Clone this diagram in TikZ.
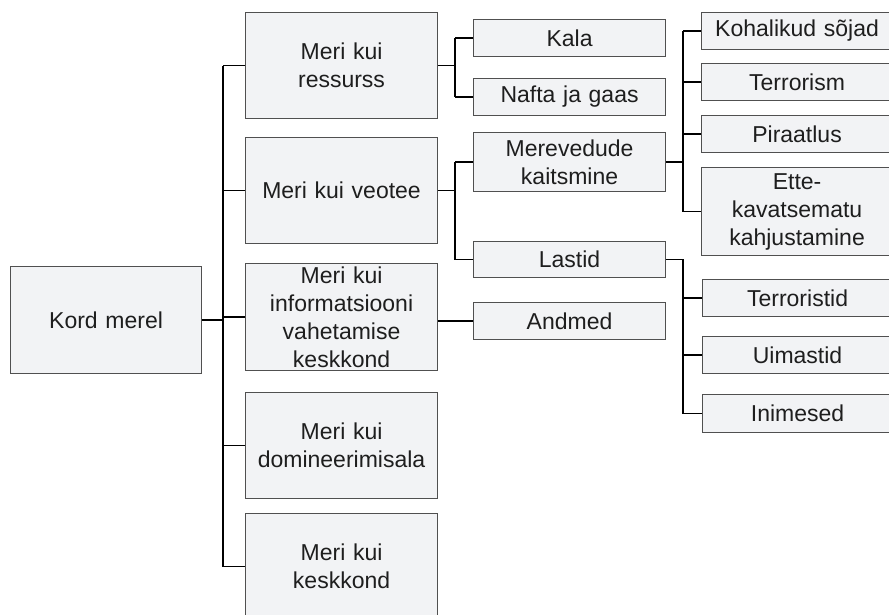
\documentclass[tikz,border=0pt]{standalone}
\usepackage{fontspec}
\setmainfont{Liberation Sans}
\definecolor{boxfill}{HTML}{F2F3F5}
\definecolor{boxline}{HTML}{505050}
\definecolor{txt}{HTML}{1E1E1E}
\begin{document}
\begin{tikzpicture}[x=1pt,y=-1pt,
  bx/.style={draw=boxline, fill=boxfill, line width=1.1pt, inner sep=0pt, anchor=north west,
    align=center, text=txt, font=\fontsize{23}{28}\selectfont},
  conn/.style={draw=black, line width=1.8pt}]
\useasboundingbox (0,0) rectangle (889,615);
\clip (0,0) rectangle (889,615);
\newcommand{\bxat}[6]{\node[bx, minimum width=#3pt, minimum height=#4pt, text width=#3pt] (#5) at (#1,#2) {#6};}
% root
\bxat{10}{266}{191}{107}{root}{Kord merel}
% level 1
\bxat{245}{12}{192}{106}{ra}{Meri kui\\ressurss}
\bxat{245}{137}{192}{106}{rb}{Meri kui veotee}
\bxat{245}{263}{192}{107}{rc}{Meri kui\\informatsiooni\\vahetamise\\keskkond}
\bxat{245}{392}{192}{106}{rd}{Meri kui\\domineerimisala}
\bxat{245}{513}{192}{106}{re}{Meri kui\\keskkond}
% level 2
\bxat{473}{19}{192}{37}{kala}{Kala}
\bxat{473}{78}{192}{37}{nafta}{Nafta ja gaas}
\bxat{473}{132}{192}{59}{merev}{Merevedude\\kaitsmine}
\bxat{473}{241}{192}{36}{lastid}{Lastid}
\bxat{473}{302}{192}{37}{andmed}{Andmed}
% level 3
\bxat{701}{12}{191}{37}{koh}{Kohalikud sõjad}
\bxat{701}{63}{191}{37}{terr}{Terrorism}
\bxat{701}{115}{191}{37}{pir}{Piraatlus}
\bxat{701}{167}{191}{88}{ette}{Ette-\\kavatsematu\\kahjustamine}
\bxat{702}{279}{190}{37}{terist}{Terroristid}
\bxat{702}{336}{190}{37}{uim}{Uimastid}
\bxat{702}{394}{190}{38}{inim}{Inimesed}
% fork coordinates
\coordinate (t) at (223,0);
\coordinate (fa) at (455,0);
\coordinate (fb) at (683,0);
% trunk
\draw[conn] (root.east) -- (root.east -| t);
\draw[conn] (t |- ra.west) -- (t |- re.west);
\foreach \r in {ra,rb,rc,rd,re} \draw[conn] (t |- \r.west) -- (\r.west);
% ressurss
\draw[conn] (ra.east) -- (ra.east -| fa);
\draw[conn] (fa |- kala.west) -- (fa |- nafta.west);
\foreach \r in {kala,nafta} \draw[conn] (fa |- \r.west) -- (\r.west);
% veotee
\draw[conn] (rb.east) -- (rb.east -| fa);
\draw[conn] (fa |- merev.west) -- (fa |- lastid.west);
\foreach \r in {merev,lastid} \draw[conn] (fa |- \r.west) -- (\r.west);
% informatsiooni
\draw[conn] (rc.east |- andmed.west) -- (andmed.west);
% merevedude
\draw[conn] (merev.east) -- (merev.east -| fb);
\draw[conn] (fb |- koh.west) -- (fb |- ette.west);
\foreach \r in {koh,terr,pir,ette} \draw[conn] (fb |- \r.west) -- (\r.west);
% lastid
\draw[conn] (lastid.east) -- (lastid.east -| fb) -- (fb |- inim.west);
\foreach \r in {terist,uim,inim} \draw[conn] (fb |- \r.west) -- (\r.west);
\end{tikzpicture}
\end{document}
